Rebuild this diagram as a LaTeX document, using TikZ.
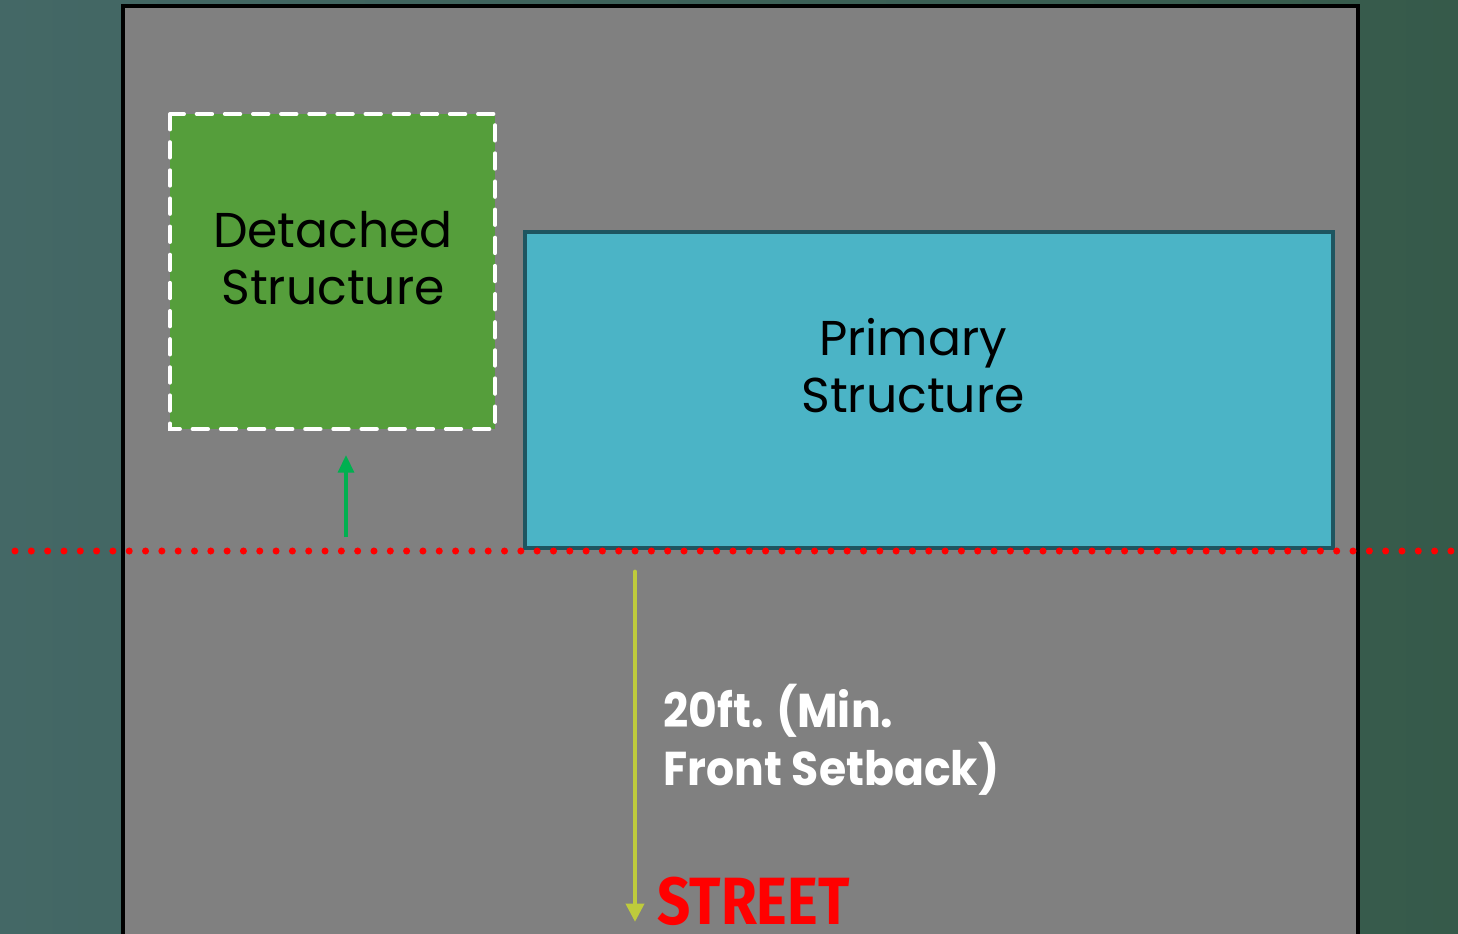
\documentclass[tikz,border=0pt]{standalone}
\usepackage{fontspec}
\setmainfont{Poppins}
\newfontfamily\streetfont{Fira Sans}
\usetikzlibrary{arrows.meta, positioning}

\definecolor{bgleft}{RGB}{68,104,102}
\definecolor{bgright}{RGB}{54,90,74}
\definecolor{lotgray}{RGB}{128,128,128}
\definecolor{detgreen}{RGB}{85,158,59}
\definecolor{primcyan}{RGB}{75,180,198}
\definecolor{primedge}{RGB}{30,85,96}
\definecolor{arrowgreen}{RGB}{0,176,80}
\definecolor{arrowyellow}{RGB}{190,203,60}

\begin{document}
\begin{tikzpicture}
	[
		x=0.01cm, y=-0.01cm,
		label/.style={font=\fontsize{13.9}{16.2}\selectfont, align=center, text=black},
		setback/.style={->, >={Triangle[length=5pt, width=4.5pt]}, line width=1.1pt}
	]
	
	\useasboundingbox (0,0) rectangle (1458,933);
	\clip (0,0) rectangle (1458,933);
	
	% Draw background.
	\shade[left color=bgleft, right color=bgright] (0,0) rectangle (1458,933);
	
	% Draw lot.
	\filldraw[draw=black, fill=lotgray, line width=1.1pt] (123,6) rectangle (1358,960);
	
	% Draw structures.
	\filldraw[
		draw=white,%
		fill=detgreen,%
		line width=1.1pt,%
		dash pattern=on 4.4pt off 3.6pt,%
		line cap=round%
	] (170,114) rectangle (495,429);
	\node[label] (detached) at (333,258) {Detached\\Structure};
	
	\filldraw[
		draw=primedge,%
		fill=primcyan,%
		line width=1pt%
	] (525,232) rectangle (1333,548);
	\node[label] (primary) at (913,366) {Primary\\Structure};
	
	% Draw setback line.
	\draw[red, line width=2pt, dash pattern=on 0pt off 4.64pt, line cap=round] (15,551) -- (1458,551);
	
	% Draw arrows.
	\coordinate (gstart) at (346,537);
	\coordinate (gend) at (346,455);
	\draw[setback, arrowgreen, line width=1pt] (gstart) -- (gend);
	
	\coordinate (ystart) at (635,572);
	\coordinate (yend) at (635,922);
	\draw[setback, arrowyellow, line width=1.4pt, line cap=round,
		>={Triangle[length=5.2pt, width=5pt]}] (ystart) -- (yend);
	
	% Labels.
	\node[anchor=north west, align=left, text=white, inner sep=0pt, xscale=0.93,
		font=\fontsize{13.5}{16.5}\selectfont\bfseries] (front) at (663,683) {20ft. (Min.\\Front Setback)};
	\node[anchor=south west, inner sep=0pt, text=red, xscale=0.87,
		font=\fontsize{19}{20}\selectfont\streetfont\bfseries] (street) at (657,926) {STREET};
\end{tikzpicture}
\end{document}
